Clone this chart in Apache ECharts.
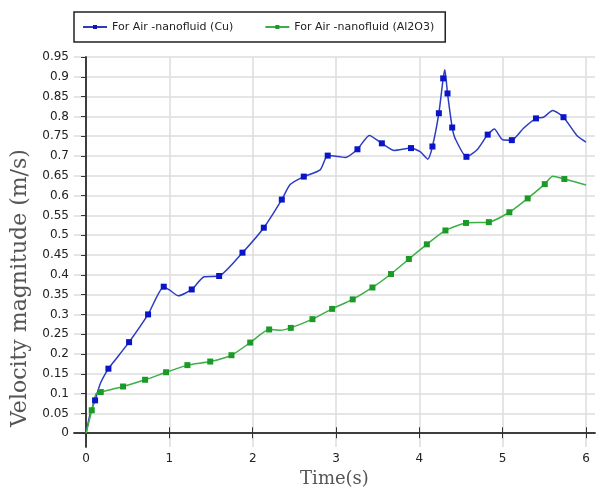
<!DOCTYPE html>
<html>
<head>
<meta charset="utf-8">
<script src="https://cdn.jsdelivr.net/npm/echarts@6/dist/echarts.min.js"></script>
<style>
  html, body { margin: 0; padding: 0; background: #fff; }
  #chart { width: 597px; height: 493px; }
</style>
</head>
<body>
<div id="chart"></div>
<script>
// series data: [time, velocity], flag 1 = square marker
var cuX = [0, 0.05, 0.108, 0.17, 0.268, 0.33, 0.516, 0.744, 0.932, 1.0, 1.108, 1.268, 1.416, 1.597, 1.877, 2.133, 2.349, 2.449, 2.613, 2.81, 2.9, 3.05, 3.11, 3.257, 3.4, 3.55, 3.7, 3.9, 4.01, 4.1, 4.157, 4.234, 4.286, 4.306, 4.338, 4.394, 4.43, 4.565, 4.69, 4.82, 4.9, 5.0, 5.11, 5.25, 5.4, 5.49, 5.6, 5.73, 5.89, 6.0];
var cuY = [0, 0.05, 0.083, 0.125, 0.163, 0.18, 0.23, 0.3, 0.37, 0.362, 0.347, 0.363, 0.395, 0.397, 0.456, 0.519, 0.59, 0.628, 0.648, 0.665, 0.701, 0.698, 0.696, 0.717, 0.752, 0.732, 0.714, 0.72, 0.711, 0.692, 0.724, 0.808, 0.896, 0.918, 0.858, 0.772, 0.744, 0.698, 0.715, 0.754, 0.768, 0.741, 0.74, 0.77, 0.795, 0.798, 0.815, 0.798, 0.752, 0.735];
var cuMark = [0, 0, 1, 0, 1, 0, 1, 1, 1, 0, 0, 1, 0, 1, 1, 1, 1, 0, 1, 0, 1, 0, 0, 1, 0, 1, 0, 1, 0, 0, 1, 1, 1, 0, 1, 1, 0, 1, 0, 1, 0, 0, 1, 0, 1, 0, 0, 1, 0, 0];

var alX = [0, 0.068, 0.12, 0.176, 0.444, 0.708, 0.96, 1.216, 1.49, 1.745, 1.97, 2.197, 2.33, 2.457, 2.717, 2.953, 3.2, 3.437, 3.66, 3.874, 4.09, 4.313, 4.56, 4.834, 5.08, 5.3, 5.505, 5.6, 5.74, 6.0];
var alY = [0, 0.058, 0.1, 0.104, 0.118, 0.135, 0.154, 0.172, 0.181, 0.197, 0.229, 0.262, 0.26, 0.266, 0.288, 0.314, 0.338, 0.368, 0.402, 0.44, 0.477, 0.512, 0.531, 0.533, 0.558, 0.593, 0.629, 0.649, 0.642, 0.627];
var alMark = [0, 1, 0, 1, 1, 1, 1, 1, 1, 1, 1, 1, 0, 1, 1, 1, 1, 1, 1, 1, 1, 1, 1, 1, 1, 1, 1, 0, 1, 0];

var xTicks = [0, 1, 2, 3, 4, 5, 6];
var yTicks = [0, 0.05, 0.1, 0.15, 0.2, 0.25, 0.3, 0.35, 0.4, 0.45, 0.5, 0.55, 0.6, 0.65, 0.7, 0.75, 0.8, 0.85, 0.9, 0.95];

var seriesNames = ['For Air -nanofluid (Cu)', 'For Air -nanofluid (Al2O3)'];

function build(xs, ys, marks) {
	var out = [];
	for (var i = 0; i < xs.length; i++) {
		var p = { value: [xs[i], ys[i]] };
		if (!marks[i]) p.symbol = 'none';
		out.push(p);
	}
	return out;
}

var frameColor = '#333';
var gridColor = '#dcdcdc';
var labelFont = { color: '#222', fontFamily: 'DejaVu Sans', fontSize: 12 };

var myChart = echarts.init(document.getElementById('chart'));
var option = {
	animation: false,
	backgroundColor: '#fff',
	legend: {
		left: 74,
		top: 12,
		padding: [8, 11, 8, 8],
		itemGap: 31,
		itemWidth: 24,
		itemHeight: 5,
		borderColor: '#222',
		borderWidth: 1.5,
		backgroundColor: '#fff',
		textStyle: { fontFamily: 'DejaVu Sans', fontSize: 11, color: '#222', lineHeight: 14 },
		data: seriesNames
	},
	grid: { left: 74, right: 2, top: 57, bottom: 39 },
	xAxis: [
		{
			type: 'value',
			min: -0.145,
			max: 6.108,
			name: 'Time(s)',
			nameLocation: 'middle',
			nameGap: 22,
			nameTextStyle: { fontFamily: 'DejaVu Serif', fontSize: 18, color: '#555' },
			axisLine: { lineStyle: { color: frameColor, width: 1.5 } },
			axisTick: { inside: true, length: 6, customValues: xTicks, lineStyle: { color: frameColor } },
			axisLabel: { customValues: xTicks, margin: 6, formatter: function (v) { return String(v); },
				color: labelFont.color, fontFamily: labelFont.fontFamily, fontSize: labelFont.fontSize },
			splitLine: { show: true, lineStyle: { color: gridColor, width: 1.5 } }
		},
		{
			type: 'value',
			position: 'top',
			min: -0.145,
			max: 6.108,
			axisLine: { show: true, lineStyle: { color: frameColor, width: 1.5 } },
			axisTick: { inside: true, length: 5, customValues: xTicks, lineStyle: { color: frameColor } },
			axisLabel: { show: false },
			splitLine: { show: false }
		}
	],
	yAxis: [
		{
			type: 'value',
			min: -0.035,
			max: 0.95,
			name: 'Velocity magnitude (m/s)',
			nameLocation: 'middle',
			nameGap: 36,
			nameTextStyle: { fontFamily: 'DejaVu Serif', fontSize: 22, color: '#555', padding: [0, 72, 0, 0] },
			axisLine: { show: true, lineStyle: { color: frameColor, width: 1.5 } },
			axisTick: { show: true, length: 4, customValues: yTicks, lineStyle: { color: frameColor } },
			axisLabel: { customValues: yTicks, margin: 5, formatter: function (v) { return String(+v.toFixed(2)); },
				color: labelFont.color, fontFamily: labelFont.fontFamily, fontSize: labelFont.fontSize },
			splitLine: { show: true, lineStyle: { color: gridColor, width: 1.5 } }
		},
		{
			type: 'value',
			position: 'right',
			min: -0.035,
			max: 0.95,
			axisLine: { show: true, lineStyle: { color: frameColor, width: 1.5 } },
			axisTick: { show: true, inside: true, length: 5, customValues: yTicks, lineStyle: { color: frameColor } },
			axisLabel: { show: false },
			splitLine: { show: false }
		}
	],
	series: [
		{
			name: seriesNames[0],
			type: 'line',
			smooth: 0.2,
			symbol: 'rect',
			symbolSize: 6,
			showAllSymbol: true,
			color: '#0a14c8',
			lineStyle: { color: '#2c3cc0', width: 1.5 },
			itemStyle: { color: '#0a14c8' },
			data: build(cuX, cuY, cuMark)
		},
		{
			name: seriesNames[1],
			type: 'line',
			smooth: 0.2,
			symbol: 'rect',
			symbolSize: 6,
			showAllSymbol: true,
			color: '#1c9a28',
			lineStyle: { color: '#3cb045', width: 1.5 },
			itemStyle: { color: '#1c9a28' },
			data: build(alX, alY, alMark)
		}
	]
};
myChart.setOption(option);
</script>
</body>
</html>
